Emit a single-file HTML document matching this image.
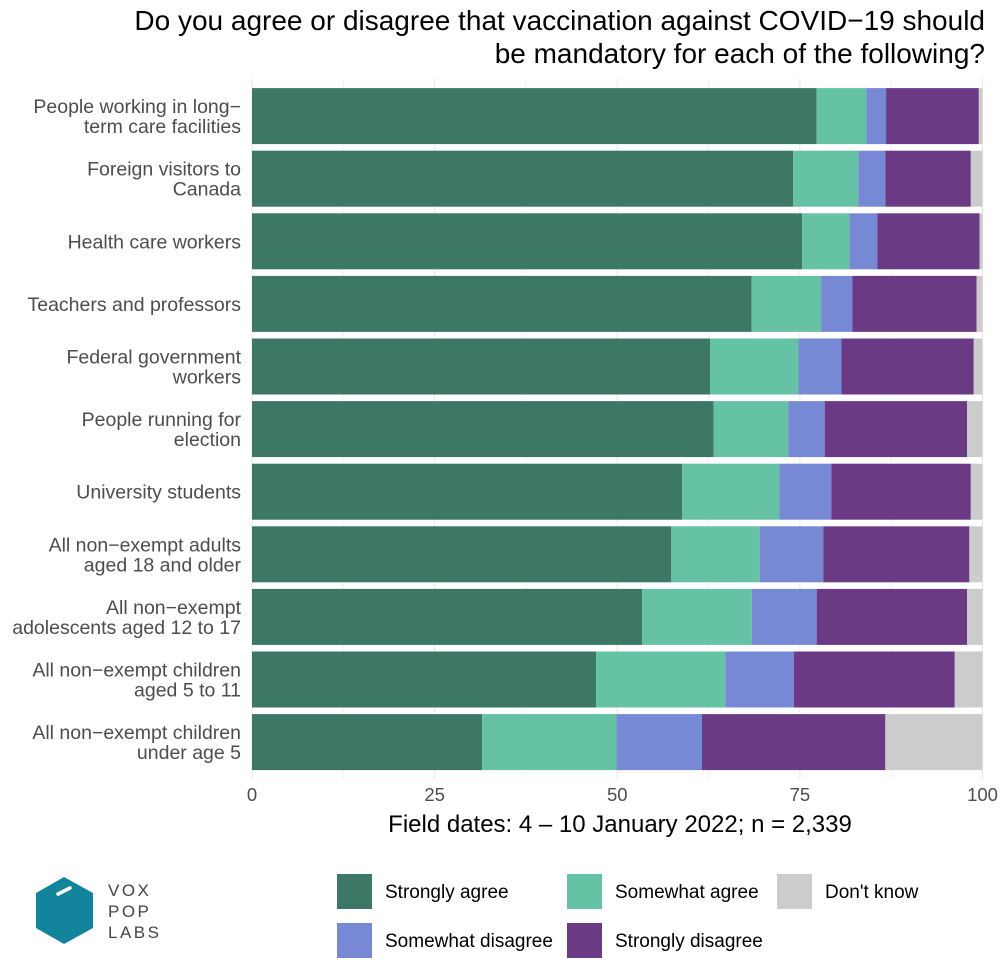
<!DOCTYPE html>
<html><head><meta charset="utf-8"><style>
body{margin:0;background:#fff;font-family:"Liberation Sans",sans-serif;}
svg{display:block}
</style></head><body>
<svg id="c" width="1000" height="962" viewBox="0 0 1000 962">
<text x="985" y="30" text-anchor="end" font-size="28" fill="#000">Do you agree or disagree that vaccination against COVID−19 should</text>
<text x="985" y="63" text-anchor="end" font-size="28" fill="#000">be mandatory for each of the following?</text>
<g id="grid"></g><g id="bars"></g><g id="ylab"></g><g id="xt"></g>
<text x="620" y="832" text-anchor="middle" font-size="24" fill="#000">Field dates: 4 – 10 January 2022; n = 2,339</text>
<g>
<polygon points="64,877 93,893 93,928 64,944 36,928 36,893" fill="#12849c"/>
<line x1="58" y1="894" x2="70" y2="888" stroke="#fff" stroke-width="3.5" stroke-linecap="round"/>
<text x="108" y="896" font-size="17" letter-spacing="2.5" fill="#444">VOX</text>
<text x="108" y="917" font-size="17" letter-spacing="2.5" fill="#444">POP</text>
<text x="108" y="938" font-size="17" letter-spacing="2.5" fill="#444">LABS</text>
</g>
<g id="legend"></g>
</svg>
<script>
const cats=["People working in long−|term care facilities","Foreign visitors to|Canada","Health care workers","Teachers and professors","Federal government|workers","People running for|election","University students","All non−exempt adults|aged 18 and older","All non−exempt|adolescents aged 12 to 17","All non−exempt children|aged 5 to 11","All non−exempt children|under age 5"];
const stronglyAgree=[77.3,74.1,75.3,68.4,62.7,63.2,58.9,57.4,53.4,47.1,31.5];
const somewhatAgree=[6.8,8.9,6.5,9.5,12.1,10.2,13.3,12.1,15.0,17.7,18.4];
const somewhatDisagree=[2.7,3.7,3.8,4.3,5.9,5.0,7.1,8.7,8.9,9.4,11.7];
const stronglyDisagree=[12.7,11.7,14.0,17.0,18.1,19.5,19.1,20.0,20.6,22.0,25.1];
const dontKnow=[0.5,1.6,0.4,0.8,1.2,2.1,1.6,1.8,2.1,3.8,13.3];
const ticks=[0,25,50,75,100];
const series=[["Strongly agree",stronglyAgree,"#3d7866"],["Somewhat agree",somewhatAgree,"#66c2a5"],["Somewhat disagree",somewhatDisagree,"#7789d4"],["Strongly disagree",stronglyDisagree,"#6b3a85"],["Don't know",dontKnow,"#cccccc"]];
const NS="http://www.w3.org/2000/svg";
const X0=252,X1=982.5,TOP=84.8,PITCH=62.6,BH=56;
const xs=v=>X0+(X1-X0)*v/100;
function mk(t,a,p){const e=document.createElementNS(NS,t);for(const k in a)e.setAttribute(k,a[k]);p.appendChild(e);return e;}
const grid=document.getElementById('grid');
for(let v=0;v<=100;v+=12.5){const l=mk('line',{x1:xs(v),x2:xs(v),y1:79,y2:779,stroke:v%25?'#f2f2f2':'#e6e6e6','stroke-width':1},grid);

}
const bars=document.getElementById('bars'),yl=document.getElementById('ylab');
cats.forEach((c,i)=>{let acc=0;const y=TOP+i*PITCH+(PITCH-BH)/2;
series.forEach(s=>{const v=s[1][i];const r=mk('rect',{x:xs(acc),y:y,width:xs(acc+v)-xs(acc),height:BH,fill:s[2]},bars);

acc+=v;});
const lines=c.split('|');const cy=y+BH/2;
lines.forEach((ln,j)=>{const t=mk('text',{x:241,y:cy+7+(j-(lines.length-1)/2)*20,'text-anchor':'end','font-size':19.5,fill:'#4d4d4d'},yl);t.textContent=ln;

});});
const xt=document.getElementById('xt');
ticks.forEach(v=>{const t=mk('text',{x:xs(v),y:801,'text-anchor':'middle','font-size':18.5,fill:'#4d4d4d'},xt);t.textContent=v;

});
const lg=document.getElementById('legend');
const pos=[[337,874],[567,874],[337,923],[567,923],[777,874]];
series.forEach((s,i)=>{const [lx,ly]=pos[i];const g=mk('g',{},lg);


mk('rect',{x:lx,y:ly,width:35,height:35,fill:s[2]},g);
const t=mk('text',{x:lx+48,y:ly+24,'font-size':19,fill:'#000'},g);t.textContent=s[0];});
</script>
</body></html>
